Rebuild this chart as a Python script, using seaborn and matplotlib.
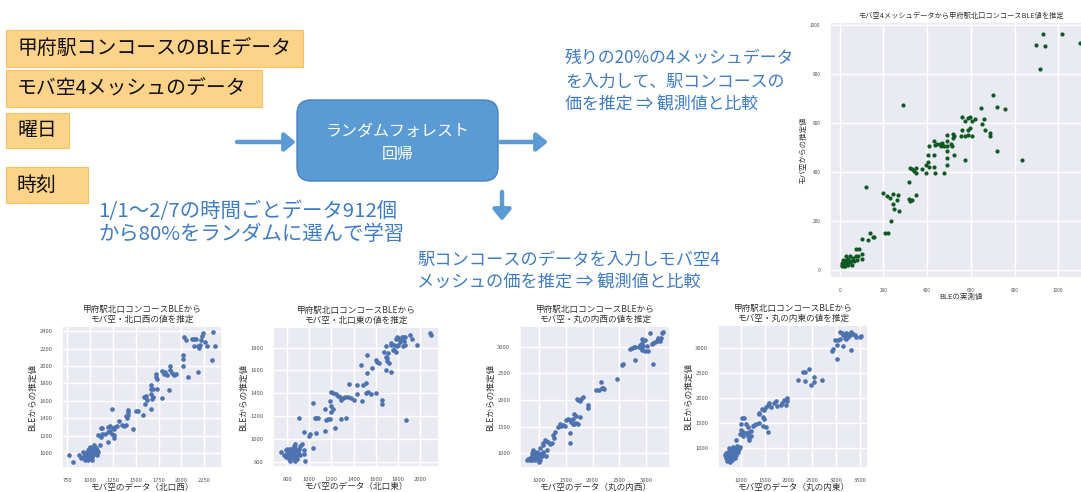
import seaborn as sns
import matplotlib.pyplot as plt
from matplotlib.patches import FancyBboxPatch, Rectangle

W, H = 1081, 492

# ---- top right: BLE observed vs estimate from 4-mesh data
ble_obs = [1015, 930, 940, 900, 915, 1100,
           700, 645, 720, 755, 650, 660, 665, 690, 690, 720, 835,
           595, 620, 605, 585, 560, 575, 560, 585, 595, 605, 585, 555, 575, 525, 520, 520, 510, 575, 525, 515,
           490, 490, 490, 490, 490, 490, 475, 470, 465, 460, 430, 435, 445, 410, 430, 430,
           435, 475, 405, 405, 395, 410, 375, 395, 350, 340, 320,
           290, 120, 200, 215, 230, 245, 265, 260, 245, 250, 270, 235, 315, 315, 330, 320, 350, 330, 350,
           220, 205, 155, 150, 140, 130, 100, 90, 75, 75, 100, 80, 60, 40, 35, 25, 15, 10, 10, 15,
           30, 45, 55, 25, 12, 30, 45, 100, 65, 85, 20, 35, 40, 50, 20, 28]
ble_pred = [965, 965, 915, 920, 820, 925,
            715, 660, 665, 655, 595, 615, 570, 560, 545, 485, 450,
            625, 615, 610, 620, 625, 610, 570, 570, 580, 545, 550, 545, 545, 545, 555, 540, 515, 450, 470, 505,
            550, 525, 505, 485, 455, 430, 505, 520, 505, 515, 525, 510, 515, 505, 470, 420,
            395, 395, 470, 440, 430, 420, 410, 395, 415, 405, 415,
            675, 340, 315, 300, 295, 310, 305, 285, 270, 250, 240, 200, 360, 290, 285, 280, 305, 410, 395,
            150, 150, 135, 135, 150, 120, 125, 85, 85, 55, 65, 40, 50, 45, 35, 25, 20, 18, 27, 38,
            40, 30, 20, 14, 14, 55, 55, 45, 35, 55, 30, 25, 20, 35, 15, 30]
ble_ticks = [0, 200, 400, 600, 800, 1000]

# ---- bottom 1: 北口西
west_obs = [2030, 2045, 2115, 2140, 2160, 2225, 2235, 2200, 2215, 2255, 2140, 2180, 2190, 2275, 2350, 2365,
            2330, 2180, 2020, 2020, 2020, 2075,
            1870, 1880, 1895, 1815, 1805, 1840, 1935, 1915, 1790, 1720, 1720, 1730, 1865, 1790, 1670, 1670,
            1690, 1730, 1670, 1690, 1680, 1595, 1590, 1615, 1625, 1605, 1670, 1500, 1520, 1575, 1415, 1410,
            1415, 1390, 1400, 1350, 1370, 1390, 1315, 1295, 1275, 1250, 1258, 1240, 1220, 1220, 1200, 1200,
            1240, 1260, 1165, 1125, 1115, 1115, 1125, 1090, 1200, 1265, 1465,
            770, 815, 920, 940, 955, 975, 995, 1015, 1030, 1050, 1070, 1015, 995, 955, 920, 880, 900, 1030,
            1050, 1070, 1090, 975, 995, 940, 975, 1015, 1105, 1040,
            985, 1005, 1025, 960, 1000, 1040, 1060, 945, 1010, 990]
west_pred = [2330, 2295, 2310, 2310, 2310, 2350, 2375, 2245, 2295, 2270, 2235, 2225, 2205, 2235, 2385, 2225,
             2065, 1935, 2130, 2075, 2005, 1880,
             2000, 1955, 1925, 1930, 1905, 1895, 1905, 1895, 1940, 1905, 1880, 1855, 1725, 1630, 1785, 1735,
             1735, 1735, 1680, 1650, 1620, 1650, 1640, 1660, 1605, 1565, 1510, 1480, 1480, 1440, 1500, 1470,
             1435, 1425, 1405, 1320, 1310, 1320, 1375, 1315, 1300, 1285, 1275, 1510, 1315, 1255, 1245, 1300,
             1225, 1205, 1225, 1225, 1190, 1285, 1290, 1215, 1130, 1175, 1275,
             980, 905, 1020, 980, 945, 960, 1000, 1040, 1055, 1075, 1040, 960, 945, 1000, 960, 980, 945, 980,
             1000, 980, 1020, 1040, 1075, 925, 925, 925, 1095, 1095,
             990, 1010, 1030, 970, 955, 1010, 1060, 1000, 1065, 1050]
west_xticks = [750, 1000, 1250, 1500, 1750, 2000, 2250]
west_yticks = [1000, 1200, 1400, 1600, 1800, 2000, 2200, 2400]

# ---- bottom 2: 北口東
east_obs = [1780, 1795, 1805, 1820, 1835, 1850, 1865, 1860, 1820, 1805, 1795, 1780, 1770, 1755, 1740, 1765,
            1735, 1850, 1865, 1910, 1925, 1970, 2090, 2105, 1525, 1465, 1600, 1615, 1630, 1675, 1690, 1690,
            1705, 1715, 1525, 1510, 1565, 1690, 1735, 1720, 1705,
            1355, 1435, 1490, 1480, 1510, 1535, 1555, 1605, 1660, 1660, 1430, 1405, 1380, 1350, 1320, 1305,
            1290, 1275, 1260, 1245, 1215, 1200, 1185, 1140, 1200, 1215, 1200, 1170, 1155, 1185, 1035, 1050,
            1065, 1080, 1230, 1335, 1290, 1140, 1065, 1005, 1000, 950, 905, 1035, 965, 875, 1875,
            740, 785, 800, 815, 830, 845, 860, 875, 890, 920, 935, 905, 875, 860, 845, 830, 815, 785, 770,
            830, 860, 950, 920, 890, 875, 800, 950, 840, 865, 895, 910, 820, 850, 880]
east_pred = [1880, 1895, 1885, 1865, 1895, 1890, 1895, 1860, 1850, 1825, 1810, 1765, 1775, 1780, 1825, 1825,
             1840, 1810, 1825, 1910, 1880, 1825, 1925, 1910, 1735, 1650, 1695, 1670, 1665, 1765, 1810, 1720,
             1705, 1750, 1575, 1490, 1620, 1605, 1585, 1665, 1680,
             1485, 1475, 1470, 1330, 1400, 1410, 1390, 1405, 1345, 1305, 1390, 1345, 1360, 1370, 1365, 1355,
             1345, 1370, 1380, 1390, 1405, 1410, 1330, 1265, 1285, 1265, 1235, 1175, 1165, 1175, 1315, 1185,
             1180, 1180, 1100, 1185, 1175, 1070, 1050, 1045, 1030, 1065, 1185, 925, 810, 955, 1165,
             885, 900, 870, 855, 885, 915, 900, 925, 900, 940, 955, 870, 840, 825, 840, 810, 825, 840, 855,
             915, 940, 870, 855, 825, 810, 915, 900, 860, 880, 890, 915, 900, 870, 850]
east_xticks = [800, 1000, 1200, 1400, 1600, 1800, 2000]
east_yticks = [800, 1000, 1200, 1400, 1600, 1800]

# ---- bottom 3: 丸の内西
mw_obs = [3080, 3295, 3325, 3235, 3205, 3170, 3265, 3285, 3220, 3140, 3110, 2985, 2935, 2925, 2955, 2915,
          2935, 2975, 2895, 2865, 2800, 2770, 2740, 2710, 3020, 3035, 2800, 3140,
          2575, 2555, 2460, 2155, 2125, 2185, 2215, 2065, 2200, 1905, 1905, 1720, 1755, 1785, 1815, 1705,
          1660, 1630, 1570, 1535, 1505, 1600, 1630, 1690, 1720, 1660, 1585, 1570, 1755, 1690, 1385, 1415,
          1445, 1475, 1350, 1290, 1260, 1270, 1195, 1245, 1165, 1125, 1105, 1075, 1060,
          765, 825, 860, 890, 920, 950, 980, 1010, 1045, 980, 950, 890, 920, 860, 1075, 1010, 1135, 1125,
          825, 795, 1000, 840, 870, 900, 935, 965, 995, 1030, 1060, 910, 880]
mw_pred = [3250, 3250, 3265, 3140, 3110, 3080, 3110, 3170, 3155, 3065, 3050, 3130, 3140, 3065, 3020, 2990,
           2945, 2910, 3030, 2990, 2990, 2990, 2975, 2955, 3020, 2925, 2745, 2680,
           2670, 2650, 2390, 2345, 2195, 2225, 2210, 2180, 2215, 1905, 1855, 1990, 1980, 2010, 2060, 2010,
           1735, 1640, 1625, 1640, 1625, 1580, 1550, 1565, 1540, 1540, 1380, 1195, 1685, 1705, 1550, 1520,
           1530, 1520, 1490, 1400, 1335, 1295, 1165, 1185, 1215, 1230, 1255, 1195, 1155,
           880, 910, 940, 890, 880, 910, 940, 880, 950, 1000, 1030, 1060, 940, 1000, 1030, 1090, 1060, 950,
           865, 890, 845, 900, 870, 920, 900, 960, 905, 985, 1010, 1000, 945]
mw_xticks = [1000, 1500, 2000, 2500, 3000]
mw_yticks = [1000, 1500, 2000, 2500, 3000]

# ---- bottom 4: 丸の内東
me_obs = [3075, 3110, 3145, 3180, 3210, 3245, 3280, 3315, 3350, 3385, 3420, 3485, 3520, 3180, 3210, 3245,
          2970, 3040, 3075, 3005, 2935, 2905, 3145, 3315, 3025,
          2195, 2300, 2340, 2435, 2355, 2470, 2525, 2525, 2710,
          1975, 1975, 1905, 1870, 1940, 1840, 1770, 1735, 1700, 1600, 1565, 1630, 1530, 1495, 1445, 1390,
          1380, 1460, 1495, 1460, 1390, 1325, 1290, 1255, 1185, 1220, 1150, 1115, 1080, 1035, 1015, 1015,
          1050, 1115, 1150, 1185, 1050, 980, 1185, 1220, 895, 1530, 1565,
          670, 705, 740, 775, 810, 840, 875, 910, 945, 980, 840, 810, 775, 740, 705, 810, 875, 910, 945,
          840, 760, 785, 720, 790, 820, 850, 880, 900, 930, 960, 860, 800, 760]
me_pred = [3325, 3290, 3260, 3260, 3290, 3280, 3260, 3325, 3280, 3260, 3225, 3225, 3240, 3195, 3175, 3225,
           3160, 3160, 3175, 3065, 2980, 2935, 3030, 2955, 2785,
           2365, 2510, 2525, 2575, 2330, 2255, 2315, 2415, 2365,
           1995, 1940, 1960, 1895, 1865, 1865, 1845, 1930, 1895, 1895, 1850, 1810, 1810, 1765, 1785, 1700,
           1670, 1615, 1570, 1440, 1505, 1485, 1460, 1440, 1310, 1345, 1410, 1485, 1605, 1590, 1475, 1355,
           1310, 1290, 1245, 1200, 1245, 1280, 1150, 1245, 1160, 1410, 1310,
           855, 890, 825, 790, 760, 825, 890, 955, 985, 1020, 920, 855, 955, 920, 790, 985, 790, 855, 920,
           1020, 1005, 730, 745, 870, 900, 940, 960, 1000, 1040, 980, 790, 810, 900]
me_xticks = [1000, 1500, 2000, 2500, 3000, 3500]
me_yticks = [1000, 1500, 2000, 2500, 3000]

BLUE_TEXT = "#3f7cc6"
ARROW = "#5b9bd5"
ORANGE = "#fcd389"
ORANGE_EDGE = "#f5c160"


def px_rect(left, top, right, bottom):
    return [left / W, 1 - bottom / H, (right - left) / W, (bottom - top) / H]


def scatter_panel(fig, box, x, y, xticks, yticks, title, xlabel, ylabel,
                  color, size, tick_fs, label_fs, title_fs):
    ax = fig.add_axes(px_rect(*box))
    sns.scatterplot(x=x, y=y, ax=ax, color=color, s=size, linewidth=0)
    ax.set_xticks(xticks)
    ax.set_yticks(yticks)
    ax.tick_params(labelsize=tick_fs, pad=1, colors="#555555")
    ax.set_title(title, fontsize=title_fs, pad=3, color="#333333", linespacing=1.15)
    ax.set_xlabel(xlabel, fontsize=label_fs, labelpad=0, color="#333333")
    ax.set_ylabel(ylabel, fontsize=label_fs, labelpad=2, color="#333333")
    return ax


def main():
    sns.set_theme(style="darkgrid")
    plt.rcParams['font.family'] = ['Noto Sans CJK JP', 'DejaVu Sans']

    fig = plt.figure(figsize=(W / 100, H / 100), dpi=100)
    fig.patch.set_facecolor("white")

    # slide layer in pixel coordinates
    bg = fig.add_axes([0, 0, 1, 1])
    bg.set_xlim(0, W)
    bg.set_ylim(H, 0)
    bg.axis("off")

    inputs = [("甲府駅コンコースのBLEデータ", 6, 30, 303, 67),
              ("モバ空4メッシュのデータ", 6, 70, 262, 107),
              ("曜日", 6, 113, 69, 148),
              ("時刻", 6, 167, 88, 203)]
    for label, x0, y0, x1, y1 in inputs:
        bg.add_patch(Rectangle((x0, y0), x1 - x0, y1 - y0, facecolor=ORANGE,
                               edgecolor=ORANGE_EDGE, linewidth=0.8))
        bg.text(x0 + 11, (y0 + y1) / 2, label, fontsize=14.3, color="#111111",
                ha="left", va="center")

    bg.text(98, 212, "1/1〜2/7の時間ごとデータ912個", fontsize=14.7, color=BLUE_TEXT,
            ha="left", va="center")
    bg.text(98, 234, "から80%をランダムに選んで学習", fontsize=14.7, color=BLUE_TEXT,
            ha="left", va="center")

    # random forest box
    bg.add_patch(FancyBboxPatch((297, 100), 201, 81, boxstyle="round,pad=0,rounding_size=14",
                                facecolor="#5b9bd5", edgecolor="#4a81b8", linewidth=1))
    bg.text(398, 131, "ランダムフォレスト", fontsize=11.5, color="white", ha="center", va="center")
    bg.text(398, 155, "回帰", fontsize=11.5, color="white", ha="center", va="center")

    arrow_kw = dict(arrowstyle="-|>,head_length=0.55,head_width=0.45", color=ARROW, lw=3.2,
                    shrinkA=0, shrinkB=0)
    bg.annotate("", xy=(296, 142), xytext=(237, 142), arrowprops=arrow_kw)
    bg.annotate("", xy=(548, 142), xytext=(500, 142), arrowprops=arrow_kw)
    bg.annotate("", xy=(502, 221), xytext=(502, 192), arrowprops=arrow_kw)

    for i, line in enumerate(["残りの20%の4メッシュデータ", "を入力して、駅コンコースの",
                              "価を推定 ⇒ 観測値と比較"]):
        bg.text(565, 58 + i * 23.5, line, fontsize=12.2, color=BLUE_TEXT, ha="left", va="center")
    for i, line in enumerate(["駅コンコースのデータを入力しモバ空4",
                              "メッシュの価を推定 ⇒ 観測値と比較"]):
        bg.text(417, 260 + i * 23, line, fontsize=12.4, color=BLUE_TEXT, ha="left", va="center")

    # top right panel (runs off the right edge of the slide)
    scatter_panel(fig, (830, 22, 1092, 278), ble_obs, ble_pred, ble_ticks, ble_ticks,
                  "モバ空4メッシュデータから甲府駅北口コンコースBLE値を推定",
                  "BLEの実測値", "モバ空からの推定値", "#0e5a22", 9, 3.4, 5.4, 5.2)

    title_top = "甲府駅北口コンコースBLEから\n"
    panels = [((62, 326, 222, 468), west_obs, west_pred, west_xticks, west_yticks,
               "モバ空・北口西の値を推定", "モバ空のデータ（北口西）"),
              ((273, 327, 439, 467), east_obs, east_pred, east_xticks, east_yticks,
               "モバ空・北口東の値を推定", "モバ空のデータ（北口東）"),
              ((520, 326, 670, 468), mw_obs, mw_pred, mw_xticks, mw_yticks,
               "モバ空・丸の内西の値を推定", "モバ空のデータ（丸の内西）"),
              ((718, 325, 868, 468), me_obs, me_pred, me_xticks, me_yticks,
               "モバ空・丸の内東の値を推定", "モバ空のデータ（丸の内東）")]
    for box, x, y, xt, yt, t2, xl in panels:
        scatter_panel(fig, box, x, y, xt, yt, title_top + t2, xl, "BLEからの推定値",
                      "#4c72b0", 11, 4.2, 6.2, 6.2)

    plt.savefig("out.png", dpi=100)


if __name__ == "__main__":
    main()
